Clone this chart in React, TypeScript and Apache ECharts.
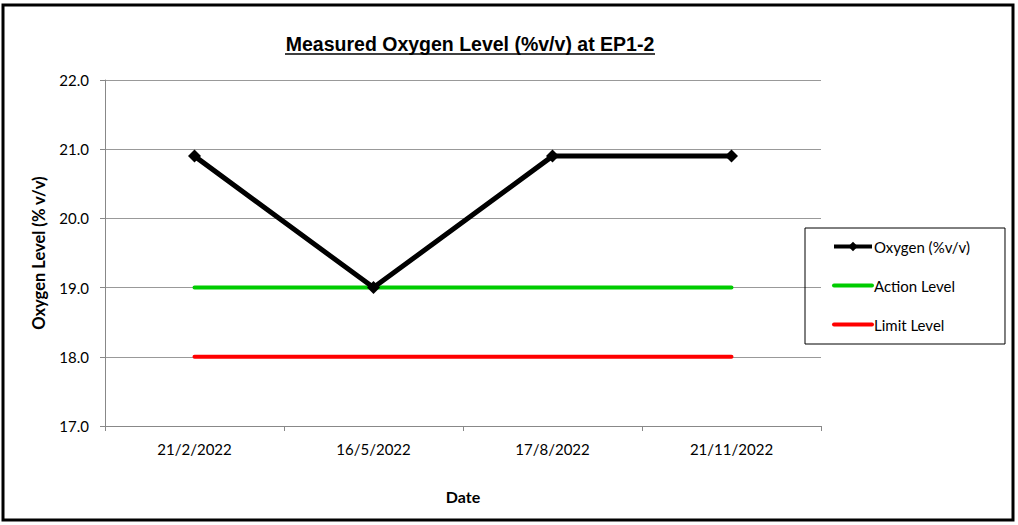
import React, { useEffect, useRef } from "react";
import * as echarts from "echarts";

const categories = ["21/2/2022", "16/5/2022", "17/8/2022", "21/11/2022"];
const oxygen = [20.9, 19.0, 20.9, 20.9];
const actionLevel = [19.0, 19.0, 19.0, 19.0];
const limitLevel = [18.0, 18.0, 18.0, 18.0];

const FONT = "Lato, 'Open Sans', sans-serif";

export default function App() {
  const ref = useRef<HTMLDivElement>(null);
  useEffect(() => {
    document.body.style.margin = "0";
    const chart = echarts.init(ref.current!, null, { renderer: "svg" });
    chart.setOption({
      animation: false,
      backgroundColor: "#ffffff",
      graphic: [
        {
          type: "rect",
          shape: { x: 3, y: 5, width: 1010, height: 515 },
          style: { fill: "none", stroke: "#000", lineWidth: 3 },
          silent: true,
        },
        {
          type: "text",
          x: 470,
          y: 44,
          style: {
            text: "Measured Oxygen Level (%v/v) at EP1-2",
            font: "bold 19.5px 'Liberation Sans', Arial, sans-serif",
            fill: "#000",
            align: "center",
            verticalAlign: "middle",
          },
        },
        {
          type: "line",
          shape: { x1: 285, y1: 54, x2: 655, y2: 54 },
          style: { stroke: "#000", lineWidth: 1.5 },
        },
      ],
      grid: { left: 105, top: 80, width: 716, height: 346, containLabel: false },
      legend: {
        orient: "vertical",
        left: 805,
        top: 228,
        itemWidth: 38,
        itemHeight: 12,
        itemGap: 24,
        padding: [11, 35, 12, 27],
        borderColor: "#000",
        borderWidth: 1,
        textStyle: { fontFamily: FONT, fontSize: 15, color: "#000", padding: [0, 0, 0, -3] },
        lineStyle: { width: 4 },
        data: [
          { name: "Oxygen (%v/v)" },
          { name: "Action Level", itemStyle: { opacity: 0 } },
          { name: "Limit Level", itemStyle: { opacity: 0 } },
        ],
      },
      xAxis: {
        type: "category",
        data: categories,
        boundaryGap: true,
        name: "Date",
        nameLocation: "middle",
        nameGap: 62,
        nameTextStyle: { fontFamily: FONT, fontWeight: "bold", fontSize: 16, color: "#000" },
        axisLine: { lineStyle: { color: "#888", width: 1 } },
        axisTick: { show: true, length: 5, lineStyle: { color: "#888" } },
        axisLabel: { fontFamily: FONT, fontSize: 15, color: "#000", margin: 15 },
        splitLine: { show: false },
      },
      yAxis: {
        type: "value",
        min: 17,
        max: 22,
        interval: 1,
        name: "Oxygen Level (% v/v)",
        nameLocation: "middle",
        nameGap: 58,
        nameTextStyle: { fontFamily: FONT, fontWeight: "bold", fontSize: 16.5, color: "#000" },
        axisLine: { show: true, lineStyle: { color: "#888", width: 1 } },
        axisTick: { show: true, length: 5, lineStyle: { color: "#888" } },
        axisLabel: {
          fontFamily: FONT,
          fontSize: 15,
          color: "#000",
          margin: 16,
          formatter: (v: number) => v.toFixed(1),
        },
        splitLine: { show: true, lineStyle: { color: "#999", width: 1 } },
      },
      series: [
        {
          name: "Oxygen (%v/v)",
          type: "line",
          data: oxygen,
          symbol: "diamond",
          symbolSize: 13,
          itemStyle: { color: "#000" },
          lineStyle: { color: "#000", width: 5 },
          z: 5,
        },
        {
          name: "Action Level",
          type: "line",
          data: actionLevel,
          symbol: "none",
          itemStyle: { color: "#00cc00" },
          lineStyle: { color: "#00cc00", width: 4, cap: "round" },
          z: 3,
        },
        {
          name: "Limit Level",
          type: "line",
          data: limitLevel,
          symbol: "none",
          itemStyle: { color: "#ff0000" },
          lineStyle: { color: "#ff0000", width: 4, cap: "round" },
          z: 3,
        },
      ],
    });
    return () => chart.dispose();
  }, []);
  return <div ref={ref} style={{ width: 1018, height: 525 }} />;
}
